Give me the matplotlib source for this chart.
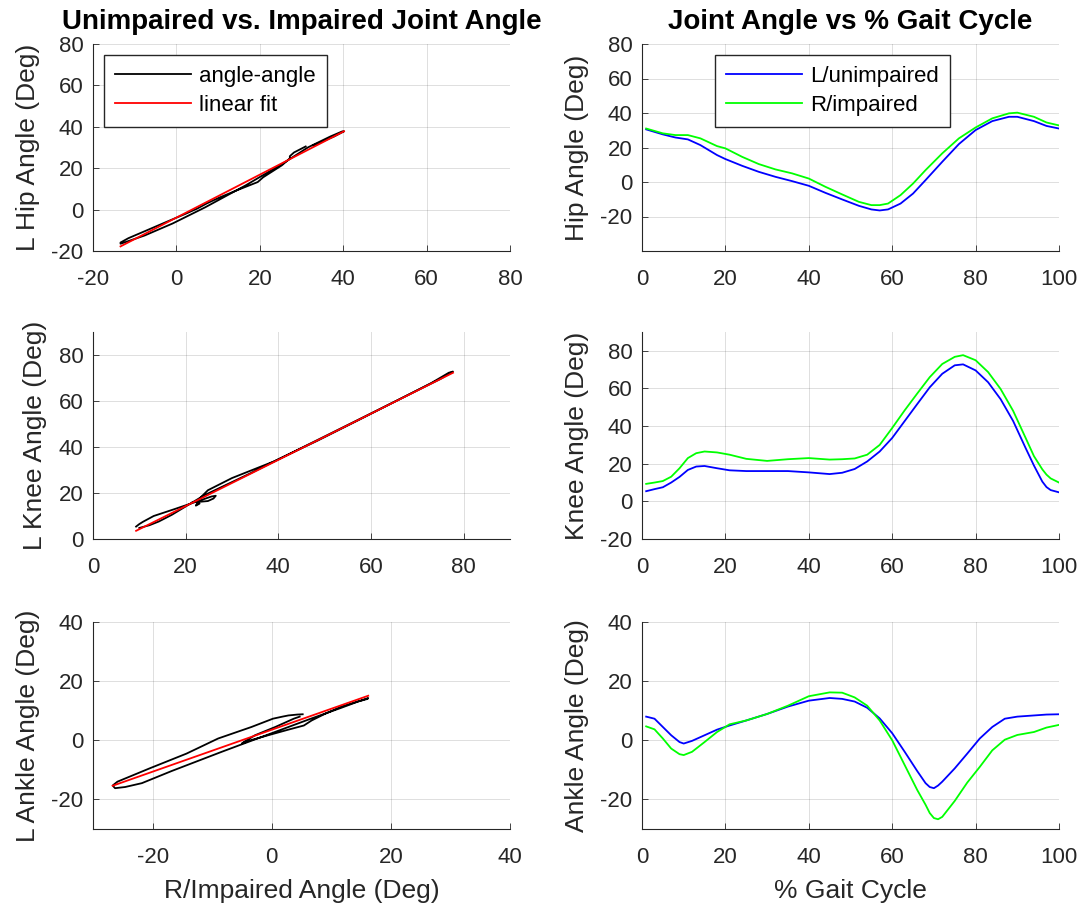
import matplotlib.pyplot as plt
import numpy as np

# % gait cycle sample points and joint angles (deg)
HIP_PCT = [1, 5, 8, 11, 14, 18, 20, 24, 28, 32, 36, 40, 44, 48, 52, 55, 57, 59, 62, 65,
           68, 72, 76, 80, 84, 88, 90, 94, 97, 100]
HIP_L = [30.5, 27.6, 25.8, 24.7, 21.4, 15.6, 13.3, 9.4, 5.9, 3.0, 0.5, -2.2, -6.3, -10.1,
         -13.8, -15.9, -16.5, -15.9, -12.5, -6.7, 1.1, 11.7, 22.0, 30.1, 35.3, 37.8, 37.8,
         35.3, 32.5, 31.0]
HIP_R = [31.0, 28.2, 27.2, 27.2, 25.3, 20.8, 19.5, 14.6, 10.4, 7.3, 5.0, 2.0, -2.8, -7.2,
         -11.5, -13.4, -13.4, -12.5, -7.6, -0.9, 6.9, 16.6, 25.3, 31.6, 36.9, 39.8, 40.2,
         37.8, 34.5, 32.8]

KNEE_PCT = [1, 3, 5, 7, 9, 11, 13, 15, 18, 21, 25, 30, 35, 40, 45, 48, 51, 54, 57, 60,
            63, 66, 69, 72, 75, 77, 80, 83, 86, 89, 92, 94, 96, 97, 98, 100]
KNEE_L = [5.4, 6.5, 7.5, 10.0, 13.0, 16.7, 18.5, 18.8, 17.6, 16.5, 16.1, 16.1, 16.1, 15.4,
          14.5, 15.2, 17.2, 21.2, 26.5, 33.7, 42.7, 51.7, 60.6, 67.8, 72.3, 72.8, 69.6,
          63.3, 54.3, 42.7, 28.3, 19.0, 10.5, 7.6, 6.0, 4.8]
KNEE_R = [9.3, 10.0, 10.8, 13.1, 17.6, 23.0, 25.6, 26.5, 26.0, 24.8, 22.6, 21.5, 22.4,
          23.0, 22.2, 22.4, 22.8, 24.8, 30.0, 39.0, 48.4, 57.3, 66.0, 73.0, 76.8, 77.7,
          75.0, 68.7, 59.7, 48.1, 33.7, 24.0, 17.0, 14.2, 12.2, 10.0]

ANKLE_PCT = [1, 3, 5, 7, 9, 10, 12, 15, 18, 21, 25, 30, 35, 40, 45, 48, 51, 54, 57, 60,
             63, 66, 68, 69, 70, 71, 72, 75, 78, 81, 84, 87, 90, 94, 97, 100]
ANKLE_L = [8.0, 7.3, 4.5, 1.7, -0.6, -1.1, -0.2, 1.7, 3.6, 5.0, 6.7, 8.9, 11.4, 13.4,
           14.3, 14.0, 13.1, 11.0, 7.4, 2.4, -3.9, -10.4, -14.5, -15.8, -16.2, -15.3,
           -14.0, -9.5, -4.5, 0.6, 4.5, 7.3, 8.0, 8.4, 8.7, 8.8]
ANKLE_R = [4.7, 3.7, 0.6, -2.8, -4.7, -5.0, -3.9, -0.6, 2.8, 5.4, 6.7, 8.9, 11.7, 14.9,
           16.2, 16.1, 14.5, 11.7, 6.7, 0.0, -8.4, -16.8, -21.8, -24.6, -26.3, -26.7,
           -25.9, -20.5, -14.3, -9.0, -3.4, 0.2, 1.8, 2.8, 4.3, 5.2]

JOINTS = ["Hip", "Knee", "Ankle"]

plt.rcParams["font.family"] = ["Liberation Sans", "DejaVu Sans"]
plt.rcParams["axes.unicode_minus"] = False

AX_GRAY = (0.15, 0.15, 0.15)
TICK_SIZE = 16
LABEL_SIZE = 19
TITLE_SIZE = 20


def style_axes(ax, xlim, ylim, xticks, yticks):
    ax.set_xlim(xlim)
    ax.set_ylim(ylim)
    ax.set_xticks(xticks)
    ax.set_yticks(yticks)
    ax.grid(True, color=AX_GRAY, alpha=0.15, linewidth=0.7)
    ax.set_axisbelow(True)
    for side in ("top", "right"):
        ax.spines[side].set_visible(False)
    for side in ("left", "bottom"):
        ax.spines[side].set_color(AX_GRAY)
        ax.spines[side].set_linewidth(0.8)
    ax.tick_params(direction="in", length=4, width=0.6, color=AX_GRAY,
                   labelcolor=AX_GRAY, labelsize=TICK_SIZE)
    ax.tick_params(axis="x", pad=13)
    ax.tick_params(axis="y", pad=7)


def add_legend(ax, x0):
    leg = ax.legend(loc="upper left", bbox_to_anchor=(x0, 0.947), fontsize=TICK_SIZE,
                    fancybox=False, framealpha=1, edgecolor=AX_GRAY, borderaxespad=0,
                    handlelength=3.4, handletextpad=0.4, borderpad=0.5, labelspacing=0.35)
    leg.get_frame().set_linewidth(1.0)


def plot_angle_angle(ax, r_vals, l_vals):
    r = np.asarray(r_vals)
    l = np.asarray(l_vals)
    slope, intercept = np.polyfit(r, l, 1)
    fit_x = np.array([r.min(), r.max()])
    ax.plot(r, l, color="black", linewidth=1.3, label="angle-angle")
    ax.plot(fit_x, slope * fit_x + intercept, color="red", linewidth=1.3, label="linear fit")


def plot_gait(ax, pct, l_vals, r_vals):
    ax.plot(pct, l_vals, color="blue", linewidth=1.3, label="L/unimpaired")
    ax.plot(pct, r_vals, color=(0, 1, 0), linewidth=1.3, label="R/impaired")


def main():
    fig = plt.figure(figsize=(10.81, 9.11), dpi=100)

    left_x, right_x, width = 93 / 1081, 642 / 1081, 417 / 1081
    row_bottoms = [1 - 251 / 911, 1 - 539 / 911, 1 - 829 / 911]
    height = 207 / 911

    data = [
        (HIP_PCT, HIP_L, HIP_R),
        (KNEE_PCT, KNEE_L, KNEE_R),
        (ANKLE_PCT, ANKLE_L, ANKLE_R),
    ]
    left_limits = [
        ((-20, 80), (-20, 80), range(-20, 81, 20), range(-20, 81, 20)),
        ((0, 90), (0, 90), range(0, 81, 20), range(0, 81, 20)),
        ((-30, 40), (-30, 40), range(-20, 41, 20), range(-20, 41, 20)),
    ]
    right_limits = [
        ((0, 100), (-40, 80), range(0, 101, 20), range(-20, 81, 20)),
        ((0, 100), (-20, 90), range(0, 101, 20), range(-20, 81, 20)),
        ((0, 100), (-30, 40), range(0, 101, 20), range(-20, 41, 20)),
    ]

    for row, (joint, (pct, l_vals, r_vals)) in enumerate(zip(JOINTS, data)):
        ax_l = fig.add_axes([left_x, row_bottoms[row], width, height])
        plot_angle_angle(ax_l, r_vals, l_vals)
        style_axes(ax_l, *left_limits[row])
        ax_l.set_ylabel(f"L {joint} Angle (Deg)", fontsize=LABEL_SIZE, color=AX_GRAY, labelpad=8)

        ax_r = fig.add_axes([right_x, row_bottoms[row], width, height])
        plot_gait(ax_r, pct, l_vals, r_vals)
        style_axes(ax_r, *right_limits[row])
        ax_r.set_ylabel(f"{joint} Angle (Deg)", fontsize=LABEL_SIZE, color=AX_GRAY, labelpad=8)

        if row == 0:
            ax_l.set_title("Unimpaired vs. Impaired Joint Angle", fontsize=TITLE_SIZE,
                           fontweight="bold", pad=11)
            ax_r.set_title("Joint Angle vs % Gait Cycle", fontsize=TITLE_SIZE,
                           fontweight="bold", pad=11)
            add_legend(ax_l, 0.026)
            add_legend(ax_r, 0.175)
        if row == 2:
            ax_l.set_xlabel("R/Impaired Angle (Deg)", fontsize=LABEL_SIZE, color=AX_GRAY,
                            labelpad=8)
            ax_r.set_xlabel("% Gait Cycle", fontsize=LABEL_SIZE, color=AX_GRAY, labelpad=8)

    fig.savefig("out.png", dpi=100)
    plt.close(fig)


if __name__ == "__main__":
    main()
